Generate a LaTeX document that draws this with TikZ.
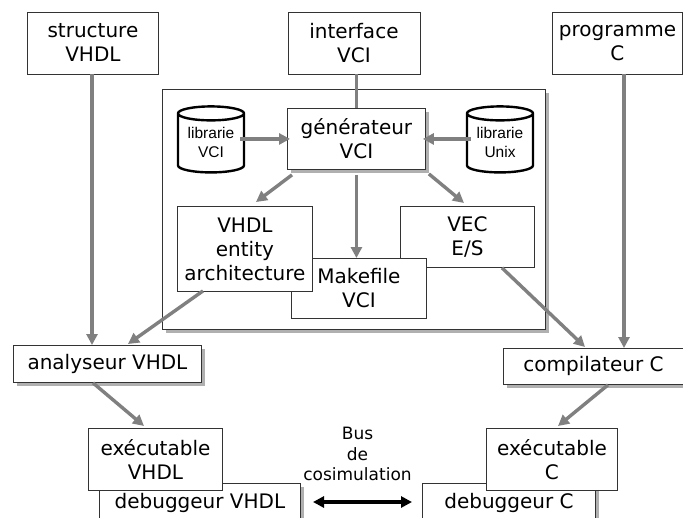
\documentclass[tikz,border=0pt]{standalone}
\usepackage{fontspec}
\setmainfont{DejaVu Sans}
\newfontfamily\libfont{Liberation Sans}
\usetikzlibrary{arrows.meta,shapes.geometric,shadows}
\definecolor{arrowgray}{HTML}{808080}
\definecolor{shadowgray}{HTML}{B0B0B0}
\tikzset{
  box/.style={draw=black!80,line width=0.9pt,fill=white,inner sep=0pt,anchor=north west,align=center,
    font=\fontsize{20}{24}\selectfont},
  shad/.style={general shadow={shadow xshift=4pt,shadow yshift=-4pt,fill=shadowgray}},
  flow/.style={draw=arrowgray,line width=3.4pt,-{Triangle[length=11pt,width=11pt]}},
  plain/.style={draw=arrowgray,line width=3.4pt},
  bus/.style={draw=black,line width=4pt,{Triangle[length=11pt,width=11pt]}-{Triangle[length=11pt,width=11pt]}},
  lib/.style={cylinder,shape border rotate=90,draw=black,line width=2.4pt,fill=white,aspect=0.3,
    minimum width=66pt,minimum height=66pt,inner sep=0pt,align=center,font=\libfont\fontsize{15.5}{19}\selectfont},
  lbl/.style={inner sep=0pt,font=\fontsize{17}{21}\selectfont,align=center}
}
\begin{document}
\begin{tikzpicture}[x=1pt,y=-1pt]
\path[use as bounding box,fill=white] (0,0) rectangle (683,517);
\clip (0,0) rectangle (683,517);
% top boxes
\node[box,minimum width=131pt,minimum height=62pt] (struct) at (27,11.5) {structure\\VHDL};
\node[box,minimum width=132pt,minimum height=62pt] (iface) at (287.5,11.5) {interface\\VCI};
\node[box,minimum width=130pt,minimum height=62pt] (prog) at (552,11.5) {programme\\C};
% enclosing box
\node[box,shad,minimum width=383pt,minimum height=240pt] (outer) at (162,89) {};
\node[box,shad,minimum width=138pt,minimum height=61pt] (gen) at (287,108) {générateur\\VCI};
\node[lib] (libl) at (211,143.5) {\raisebox{2pt}{librarie}\\\raisebox{2pt}{VCI}};
\node[lib] (libr) at (500,143.5) {\raisebox{2pt}{librarie}\\\raisebox{2pt}{Unix}};
\node[box,minimum width=134pt,minimum height=61pt] (vec) at (400,206) {VEC\\E/S};
\node[box,minimum width=135pt,minimum height=60pt] (make) at (291,258) {Makefile\\VCI};
\node[box,minimum width=135pt,minimum height=85pt] (vhdl) at (177,206) {VHDL\\entity\\architecture};
% lower boxes
\node[box,shad,minimum width=188pt,minimum height=37pt] (ana) at (13,345) {analyseur VHDL};
\node[box,shad,minimum width=180pt,minimum height=36pt] (comp) at (503,348) {compilateur C};
\node[box,shad,minimum width=201pt,minimum height=40pt] (dbv) at (99,483) {debuggeur VHDL};
\node[box,shad,minimum width=173pt,minimum height=40pt] (dbc) at (422,483) {debuggeur C};
\node[box,minimum width=134pt,minimum height=62pt] (exv) at (88,428) {exécutable\\VHDL};
\node[box,minimum width=131pt,minimum height=62pt] (exc) at (486,428) {exécutable\\C};
% connectors
\draw[flow] (struct.south -| 92,72) -- (ana.north -| 92,344);
\draw[plain] (iface.south -| gen.north) -- (gen.north);
\draw[flow] (prog.south -| 624,72) -- (comp.north -| 624,347);
\draw[flow] ([xshift=-5pt]libl.east |- gen.west) -- ([xshift=3pt]gen.west);
\draw[flow] ([xshift=5pt]libr.west |- gen.east) -- ([xshift=-3pt]gen.east);
\draw[flow] ([xshift=5pt,yshift=-5pt]gen.south west) -- ([xshift=79pt,yshift=4pt]vhdl.north west);
\draw[flow] ([yshift=-5pt]gen.south) -- (make.north -| gen.south);
\draw[flow] ([xshift=3pt,yshift=-4pt]gen.south east) -- ([xshift=64pt,yshift=3pt]vec.north west);
\draw[flow] ([xshift=26pt,yshift=1pt]vhdl.south west) -- ([xshift=115pt,yshift=1pt]ana.north west);
\draw[flow] ([xshift=102pt,yshift=0pt]vec.south west) -- ([xshift=82pt,yshift=1pt]comp.north west);
\draw[flow] ([xshift=80pt]ana.south west) -- ([xshift=56pt,yshift=2pt]exv.north west);
\draw[flow] ([xshift=105pt]comp.south west) -- ([xshift=72pt,yshift=2pt]exc.north west);
\draw[bus] (313,502) -- (412,502);
\node[lbl] (bus1) at (357.5,433) {Bus};
\node[lbl] (bus2) at (357.5,454) {de};
\node[lbl] (bus3) at (357.5,474) {cosimulation};
\end{tikzpicture}
\end{document}
